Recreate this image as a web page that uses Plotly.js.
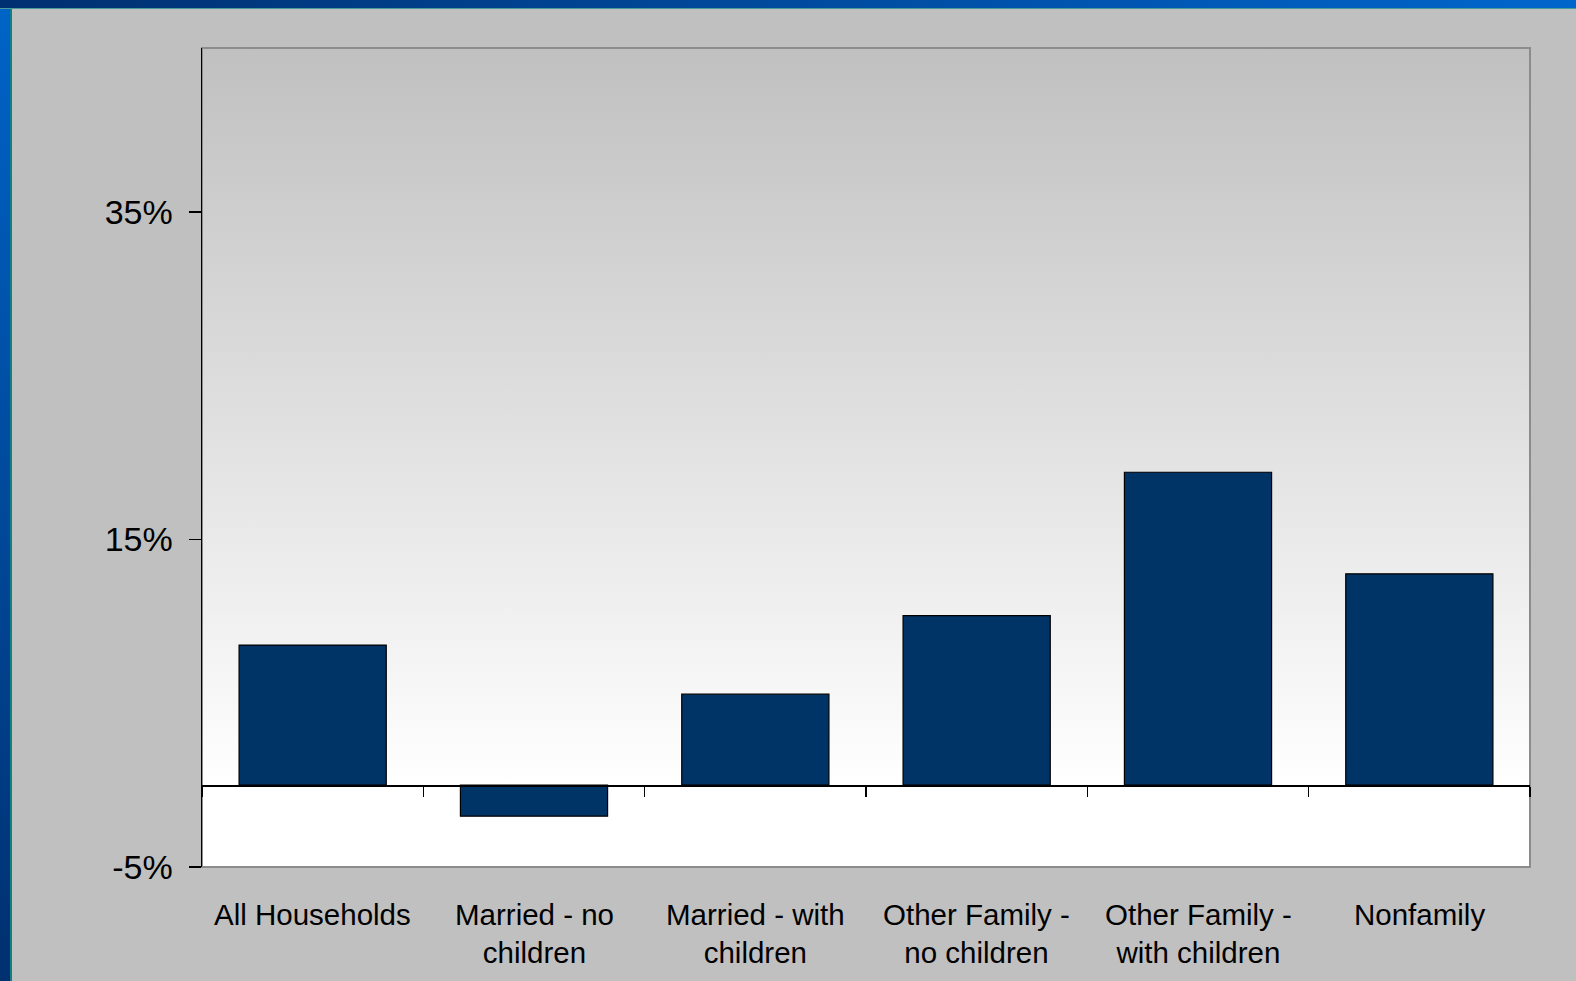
<!DOCTYPE html>
<html>
<head>
<meta charset="utf-8">
<script src="https://cdn.plot.ly/plotly-3.0.1.min.js"></script>
<style>
  html, body { margin: 0; padding: 0; width: 1576px; height: 981px; overflow: hidden; background: #c0c0c0; }
  #topbar { position: absolute; left: 0; top: 0; width: 1576px; height: 8px;
            background: linear-gradient(to right, #003070, #0066cc); border-bottom: 1px solid #4a9a9a; }
  #leftbar { position: absolute; left: 0; top: 0; width: 10px; height: 981px;
             background: linear-gradient(to bottom, #0064c8, #003070); border-right: 2px solid #108080; }
  #chart { position: absolute; left: 0; top: 0; width: 1576px; height: 981px; }
</style>
</head>
<body>
<div id="leftbar"></div>
<div id="topbar"></div>
<div id="chart"></div>
<script>
// Data
const categories = [
  "All Households",
  "Married - no<br>children",
  "Married - with<br>children",
  "Other Family -<br>no children",
  "Other Family -<br>with children",
  "Nonfamily"
];
const changePct = [8.55, -1.9, 5.55, 10.35, 19.1, 12.9];
const yRange = [-5, 45];
const yTickVals = [-5, 15, 35];
const yTickText = ["-5%", "15%", "35%"];

const zeroPos = (0 - yRange[0]) / (yRange[1] - yRange[0]);

const gradSvg = '<svg xmlns="http://www.w3.org/2000/svg" width="100" height="100" preserveAspectRatio="none">' +
  '<defs><linearGradient id="g" x1="0" y1="0" x2="0" y2="1">' +
  '<stop offset="0" stop-color="#c0c0c0"/><stop offset="0.9" stop-color="#ffffff"/><stop offset="1" stop-color="#ffffff"/>' +
  '</linearGradient></defs><rect width="100" height="100" fill="url(#g)"/></svg>';
const gradUri = 'data:image/svg+xml;base64,' + btoa(gradSvg);

const font = "'Liberation Sans', Arial, sans-serif";

const trace = {
  type: 'bar',
  x: categories,
  y: changePct,
  width: 0.665,
  marker: { color: '#003366', line: { color: '#000000', width: 1.2 } },
  hoverinfo: 'x+y'
};

const labelAnnotations = categories.map(c => ({
  x: c, xref: 'x', y: 0, yref: 'paper',
  xanchor: 'center', yanchor: 'top', yshift: -29,
  text: c, showarrow: false, align: 'center',
  font: { size: 29.5, family: font, color: '#000000' }
}));

const layout = {
  width: 1576,
  height: 981,
  margin: { l: 202, r: 46, t: 48, b: 114, pad: 0 },
  paper_bgcolor: 'rgba(0,0,0,0)',
  plot_bgcolor: 'rgba(0,0,0,0)',
  showlegend: false,
  font: { family: font, color: '#000000' },
  images: [{
    source: gradUri, xref: 'paper', yref: 'paper', x: 0, y: 1, sizex: 1, sizey: 1,
    xanchor: 'left', yanchor: 'top', sizing: 'stretch', layer: 'below'
  }],
  shapes: [{
    type: 'rect', xref: 'paper', yref: 'paper', x0: 0, x1: 1, y0: 0, y1: 1,
    line: { color: '#8c8c8c', width: 2 }, fillcolor: 'rgba(0,0,0,0)', layer: 'below'
  }],
  annotations: labelAnnotations,
  xaxis: {
    type: 'category',
    anchor: 'free',
    position: zeroPos,
    side: 'bottom',
    tickson: 'boundaries',
    ticks: 'outside',
    ticklen: 10,
    tickwidth: 1.5,
    tickcolor: '#000000',
    showticklabels: false,
    showline: true,
    linecolor: '#000000',
    linewidth: 1.5,
    showgrid: false,
    zeroline: false,
    fixedrange: true
  },
  yaxis: {
    range: yRange,
    tickmode: 'array',
    tickvals: yTickVals,
    ticktext: yTickText,
    ticks: 'outside',
    ticklen: 12,
    tickwidth: 1.5,
    tickcolor: '#000000',
    showline: true,
    linecolor: '#000000',
    linewidth: 1.5,
    showgrid: false,
    zeroline: false,
    tickfont: { size: 34, family: font, color: '#000000' },
    ticklabelstandoff: 9,
    fixedrange: true
  }
};

Plotly.newPlot('chart', [trace], layout, { displayModeBar: false, staticPlot: true });
</script>
</body>
</html>
